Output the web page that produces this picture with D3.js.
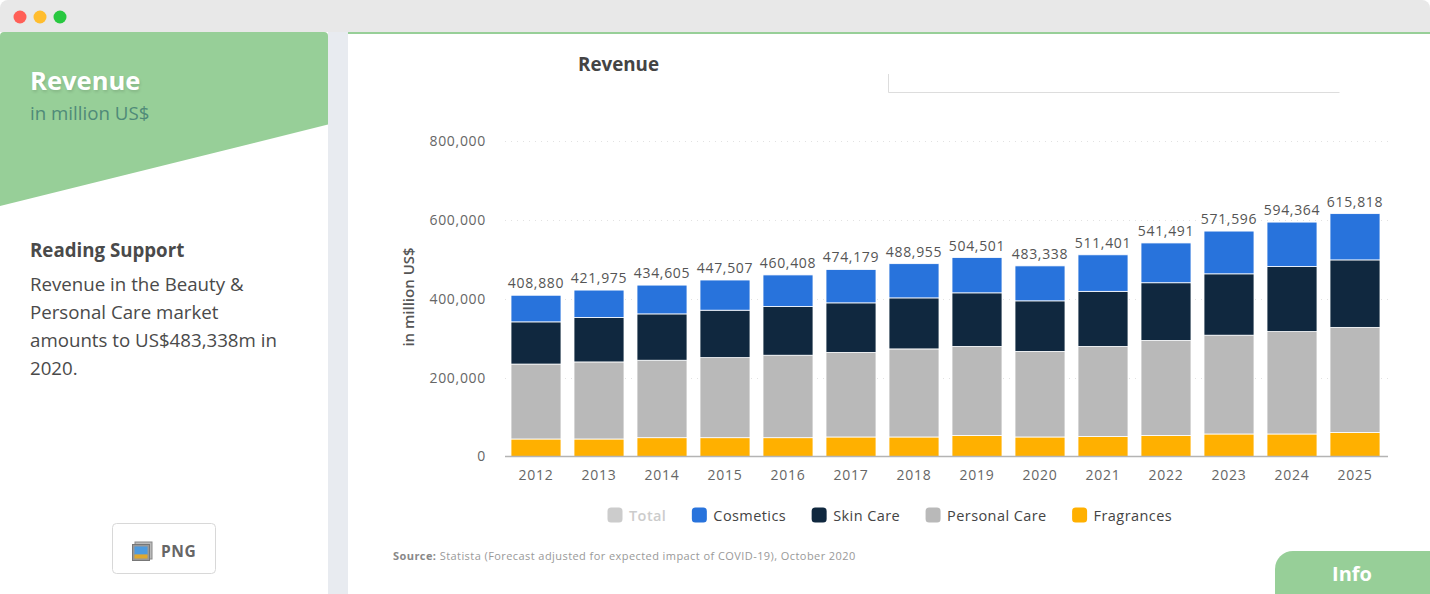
<!DOCTYPE html>
<html>
<head>
<meta charset="utf-8">
<script src="https://cdn.jsdelivr.net/npm/d3@7"></script>
<style>
  html, body { margin: 0; padding: 0; background: #fff; overflow: hidden; }
  svg { display: block; }
  text { font-family: "Open Sans", sans-serif; }
</style>
</head>
<body>
<div id="chart"></div>
<script>
const years = ["2012","2013","2014","2015","2016","2017","2018","2019","2020","2021","2022","2023","2024","2025"];
const totals = [408880,421975,434605,447507,460408,474179,488955,504501,483338,511401,541491,571596,594364,615818];
const fragrances = [44400,44400,47700,47700,47700,49500,49500,53300,49500,50800,53300,57100,57100,60900];
const personalCare = [190000,195400,196400,203000,209100,214500,223300,225900,217000,228400,241100,250500,259600,266500];
const skinCare = [107000,112700,117500,120300,123400,125600,129400,135800,128200,139600,146200,155600,165000,171100];
const cosmetics = [67480,69475,73005,76507,80208,84579,86755,89501,88638,92601,100891,108396,112664,117318];
const yTicks = [0,200000,400000,600000,800000];
const legendNames = ["Total","Cosmetics","Skin Care","Personal Care","Fragrances"];
const legendColors = ["#cccccc","#2873dc","#10283f","#b9b9b9","#ffb000"];
const sideText = ["Revenue in the Beauty &","Personal Care market","amounts to US$483,338m in","2020."];

const green = "#97cf98";
const svg = d3.select("#chart").append("svg").attr("width", 1430).attr("height", 594);

// window chrome
svg.append("rect").attr("width", 1430).attr("height", 594).attr("fill", "#fff");
svg.append("path").attr("d", "M0,32V8a8,8 0 0 1 8,-8H1422a8,8 0 0 1 8,8V32Z").attr("fill", "#e8e8e8");
svg.selectAll(".dot").data(["#ff5f57","#ffbd2e","#28c840"]).enter().append("circle")
  .attr("cx", (d, i) => 20 + i * 20).attr("cy", 17).attr("r", 6.5).attr("fill", d => d);

// gutter between panels
svg.append("rect").attr("x", 328).attr("y", 32).attr("width", 20).attr("height", 562).attr("fill", "#e8ebf0");
svg.append("rect").attr("x", 348).attr("y", 32).attr("width", 1082).attr("height", 2).attr("fill", green);

// left panel
svg.append("path").attr("d", "M0,36a4,4 0 0 1 4,-4H324a4,4 0 0 1 4,4V124.5L0,206Z").attr("fill", green);
svg.append("text").attr("x", 30).attr("y", 90).attr("fill", "#fff").attr("font-size", 25.6).attr("font-weight", 700)
  .style("text-shadow", "1px 2px 3px rgba(0,0,0,0.12)").text("Revenue");
svg.append("text").attr("x", 30).attr("y", 120).attr("fill", "#4f8a78").attr("font-size", 18.7).text("in million US$");
svg.append("text").attr("x", 30).attr("y", 257).attr("fill", "#4a4a4a").attr("font-size", 18.7).attr("font-weight", 700).text("Reading Support");
svg.selectAll(".side").data(sideText).enter().append("text")
  .attr("x", 30).attr("y", (d, i) => 290.5 + i * 28).attr("fill", "#4a4a4a").attr("font-size", 18.7).text(d => d);

// PNG button
svg.append("rect").attr("x", 112.5).attr("y", 523.5).attr("width", 103).attr("height", 50).attr("rx", 4)
  .attr("fill", "#fff").attr("stroke", "#d8d8d8");
svg.append("rect").attr("x", 135).attr("y", 542).attr("width", 17).attr("height", 17).attr("fill", "#bbb").attr("stroke", "#888");
svg.append("rect").attr("x", 132.5).attr("y", 544.5).attr("width", 17).attr("height", 16).attr("fill", "#999").attr("stroke", "#777");
svg.append("rect").attr("x", 134.5).attr("y", 546.5).attr("width", 13).attr("height", 8).attr("fill", "#4d9be0");
svg.append("rect").attr("x", 134.5).attr("y", 554.5).attr("width", 13).attr("height", 4).attr("fill", "#e0a92e");
svg.append("text").attr("x", 161).attr("y", 557).attr("fill", "#666").attr("font-size", 15.5).attr("font-weight", 700)
  .attr("letter-spacing", 0.6).text("PNG");

// chart header
svg.append("text").attr("x", 578).attr("y", 71).attr("fill", "#444").attr("font-size", 18.8).attr("font-weight", 700).text("Revenue");
svg.append("path").attr("d", "M888.5,74V92.5H1339.5").attr("fill", "none").attr("stroke", "#dddddd");

// scales
const x = d3.scaleBand().domain(years).range([504.5, 1386.5]).paddingInner(13 / 63).paddingOuter(6.5 / 63);
const y = d3.scaleLinear().domain([0, 800000]).range([456.5, 141]);

// grid
svg.append("g").selectAll("line").data(yTicks.filter(d => d > 0)).enter().append("line")
  .attr("x1", 505).attr("x2", 1388).attr("y1", d => Math.round(y(d)) + 0.5).attr("y2", d => Math.round(y(d)) + 0.5)
  .attr("stroke", "#e2e2e2").attr("stroke-dasharray", "1,5");

// axes
const yAxis = svg.append("g").attr("transform", "translate(492,0)")
  .call(d3.axisLeft(y).tickValues(yTicks).tickSize(0).tickPadding(6).tickFormat(d3.format(",")));
yAxis.select(".domain").remove();
yAxis.selectAll("text").attr("font-size", 14).attr("fill", "#666").attr("letter-spacing", 0.7);

const xAxis = svg.append("g").attr("transform", "translate(0,456.5)")
  .call(d3.axisBottom(x).tickSize(0).tickPadding(13.5));
xAxis.select(".domain").remove();
xAxis.selectAll("text").attr("font-size", 14).attr("fill", "#666").attr("letter-spacing", 0.7);

svg.append("text").attr("transform", "translate(414,297) rotate(-90)").attr("text-anchor", "middle")
  .attr("fill", "#555").attr("font-size", 15).attr("font-weight", 600).text("in million US$");

// stacked bars
const stackRows = years.map((year, i) => ({
  year,
  fragrances: fragrances[i],
  personalCare: personalCare[i],
  skinCare: skinCare[i],
  cosmetics: cosmetics[i]
}));
const stackKeys = ["fragrances","personalCare","skinCare","cosmetics"];
const stackColors = { fragrances: "#ffb000", personalCare: "#b9b9b9", skinCare: "#10283f", cosmetics: "#2873dc" };
const series = d3.stack().keys(stackKeys)(stackRows);

svg.append("g").selectAll("g").data(series).enter().append("g")
  .attr("fill", d => stackColors[d.key])
  .selectAll("rect").data(d => d).enter().append("rect")
  .attr("x", d => x(d.data.year))
  .attr("width", x.bandwidth())
  .attr("y", d => y(d[1]))
  .attr("height", d => y(d[0]) - y(d[1]))
  .attr("stroke", "#fff").attr("stroke-width", 0.8);

svg.append("line").attr("x1", 505).attr("x2", 1388).attr("y1", 456.5).attr("y2", 456.5)
  .attr("stroke", "#b4b4b4").attr("stroke-width", 1.5);

// total labels
svg.append("g").selectAll("text").data(totals).enter().append("text")
  .attr("x", (d, i) => x(years[i]) + x.bandwidth() / 2)
  .attr("y", d => y(d) - 7)
  .attr("text-anchor", "middle").attr("font-size", 14).attr("fill", "#555").attr("letter-spacing", 0.7)
  .text(d => d3.format(",")(d));

// legend, laid out left to right from measured text widths
let legendX = 607.5;
legendNames.forEach((name, i) => {
  svg.append("rect").attr("x", legendX).attr("y", 507.5).attr("width", 15).attr("height", 15).attr("rx", 3.5)
    .attr("fill", legendColors[i]);
  const label = svg.append("text").attr("x", legendX + 21.5).attr("y", 520.5)
    .attr("font-size", 14.5).attr("letter-spacing", 0.42)
    .attr("fill", i === 0 ? "#cccccc" : "#444")
    .attr("font-weight", i === 0 ? 600 : 400)
    .text(name);
  legendX += 21.5 + label.node().getComputedTextLength() + 25.5;
});

// source
const source = svg.append("text").attr("x", 393).attr("y", 560)
  .attr("font-size", 11).attr("fill", "#999").attr("letter-spacing", 0.43);
source.append("tspan").attr("font-weight", 700).attr("fill", "#888").text("Source:");
source.append("tspan").text(" Statista (Forecast adjusted for expected impact of COVID-19), October 2020");

// info tab
svg.append("path").attr("d", "M1275,594V569a18,18 0 0 1 18,-18H1430V594Z").attr("fill", green);
svg.append("text").attr("x", 1352).attr("y", 581).attr("text-anchor", "middle").attr("fill", "#fff")
  .attr("font-size", 20).attr("font-weight", 700).text("Info");
</script>
</body>
</html>
